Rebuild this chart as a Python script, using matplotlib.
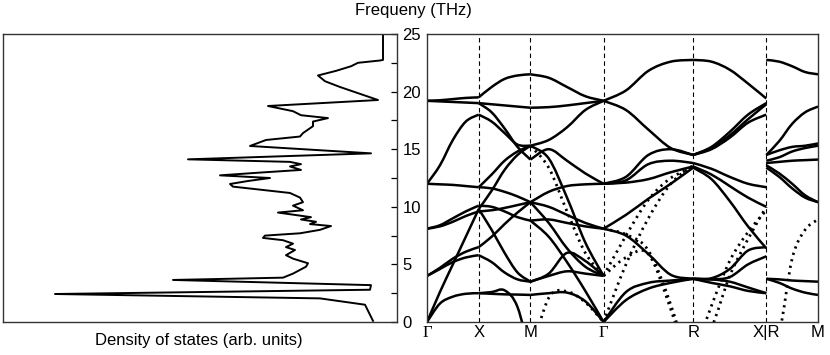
import numpy as np
import matplotlib
matplotlib.use("Agg")
import matplotlib.pyplot as plt
from matplotlib.ticker import MultipleLocator
from matplotlib.path import Path
from matplotlib.patches import PathPatch

plt.rcParams['font.family'] = ['Liberation Sans', 'DejaVu Sans']

# ---- density of states (left panel) ----
dos_freq = [0.1, 1.5, 2.05, 2.43, 2.8, 3.2, 3.65, 3.85, 4.2, 4.8, 5.1, 5.5, 5.8,
            6.25, 6.5, 6.8, 7.1, 7.3, 7.5, 7.7, 8.0, 8.33, 8.5, 8.7, 8.9, 9.1,
            9.5, 9.7, 10.1, 10.4, 10.8, 11.2, 11.75, 11.98, 12.24, 12.5, 12.73,
            12.97, 13.2, 13.5, 13.7, 13.9, 14.12, 14.64, 15.28, 15.8, 16.1, 16.4,
            17.0, 17.4, 17.7, 17.95, 18.3, 18.75, 19.27, 20.4, 20.9, 21.4, 21.8,
            22.2, 22.5, 22.7, 22.75, 25.0]
dos_val = [0.10, 0.18, 0.63, 3.28, 0.13, 0.12, 2.10, 1.00, 0.90, 0.77, 0.75, 0.90,
           0.97, 0.88, 0.97, 0.90, 1.00, 1.20, 1.18, 0.83, 0.63, 0.52, 0.73, 0.67,
           0.82, 0.72, 1.05, 0.80, 0.90, 0.80, 0.83, 0.93, 1.50, 1.53, 1.35, 1.13,
           1.63, 1.23, 0.82, 0.93, 0.82, 0.93, 1.95, 0.12, 1.33, 1.17, 0.83, 0.80,
           0.70, 0.70, 0.55, 0.82, 0.90, 1.15, 0.05, 0.43, 0.58, 0.65, 0.47, 0.32,
           0.25, 0.03, 0.0, 0.0]

# ---- phonon dispersion (right panel) ----
kpt_labels = ['Γ', 'X', 'M', 'Γ', 'R', 'X|R', 'M']
seg_length = [0.5, 0.5, 0.7071, 0.8660, 0.7071, 0.5]   # path lengths in 2pi/a
# frequencies (THz) of each band at 0, 1/4, 1/2, 3/4, 1 along a segment
bands_GX = [
    [0, 1.6, 2.2, 2.45, 2.5],
    [0, 2.6, 5.0, 7.4, 9.8],
    [4.0, 4.6, 5.2, 5.6, 5.8],
    [4.0, 4.7, 5.5, 6.1, 6.5],
    [8.1, 8.3, 8.7, 9.2, 9.6],
    [8.1, 8.4, 9.0, 9.6, 10.1],
    [12.0, 11.95, 11.9, 11.8, 11.7],
    [12.0, 13.6, 15.8, 17.4, 18.0],
    [19.2, 19.25, 19.35, 19.45, 19.5],
    [19.2, 19.15, 19.1, 19.05, 19.0],
]
bands_XM = [
    [2.5, 2.45, 2.4, 2.38, 2.35],
    [2.5, 2.6, 2.75, 1.3, -3],
    [5.8, 5.2, 4.3, 3.7, 3.5],
    [6.5, 7.4, 8.5, 9.5, 10.4],
    [9.8, 8.0, 6.0, 4.3, 3.5],
    [10.1, 10.0, 9.6, 9.1, 8.8],
    [9.6, 9.7, 9.9, 10.15, 10.4],
    [11.7, 11.6, 11.3, 10.9, 10.4],
    [11.7, 12.8, 14.0, 14.8, 15.3],
    [9.8, 11.4, 13.2, 14.5, 15.3],
    [18.0, 17.4, 16.4, 15.4, 15.3],
    [19.0, 18.2, 16.8, 15.2, 14.1],
    [19.0, 18.9, 18.8, 18.7, 18.6],
    [19.5, 20.4, 21.1, 21.4, 21.5],
]
bands_MG = [
    [21.5, 21.2, 20.4, 19.6, 19.2],
    [18.6, 18.65, 18.8, 19.0, 19.2],
    [15.3, 15.8, 16.9, 18.4, 19.2],
    [14.1, 15.0, 14.0, 12.9, 12.0],
    [15.3, 14.2, 10.8, 6.9, 4.0],
    [15.3, 13.4, 9.6, 6.0, 4.0],
    [10.4, 11.3, 11.8, 11.95, 12.0],
    [10.4, 10.0, 9.3, 8.6, 8.1],
    [8.8, 8.9, 8.6, 8.3, 8.1],
    [10.4, 8.6, 6.4, 4.8, 4.0],
    [3.5, 4.2, 6.0, 5.3, 4.0],
    [3.5, 4.0, 4.4, 4.2, 4.0],
    [2.35, 2.5, 2.55, 1.8, 0],
    [-3, 2.1, 2.65, 1.7, 0],
    [8.8, 7.4, 5.2, 2.7, 0],
]
bands_GR = [
    [19.2, 20.1, 21.8, 22.6, 22.75],
    [19.2, 18.4, 16.7, 15.1, 14.5],
    [12.0, 12.6, 14.5, 15.0, 14.5],
    [12.0, 12.3, 13.7, 14.0, 13.8],
    [12.0, 12.1, 12.4, 13.0, 13.5],
    [8.1, 9.3, 10.7, 12.0, 13.4],
    [4.0, 7.5, 10.6, 12.5, 13.4],
    [0, 5.0, 9.0, 12.0, 13.6],
    [8.1, 7.5, 5.9, 4.1, 3.75],
    [4.0, 5.6, 5.9, 1.1, -5],
    [8.1, 7.6, 6.2, 1.5, -5],
    [0, 1.9, 2.9, 3.4, 3.75],
    [0, 2.6, 3.4, 3.6, 3.75],
]
bands_RX = [
    [22.75, 22.6, 21.9, 20.7, 19.4],
    [14.5, 15.2, 16.5, 18.0, 19.0],
    [14.5, 15.1, 16.2, 17.6, 18.9],
    [14.5, 15.0, 16.0, 17.3, 18.0],
    [13.8, 13.3, 12.6, 12.0, 11.7],
    [13.5, 12.8, 11.8, 10.8, 10.0],
    [13.4, 12.4, 10.5, 8.3, 6.4],
    [-3, 1.4, 5.3, 7.8, 9.7],
    [-3, -0.5, 4.0, 7.2, 10.0],
    [3.75, 3.7, 3.9, 5.0, 5.7],
    [3.75, 3.8, 4.6, 6.2, 6.5],
    [3.75, 3.7, 3.5, 3.0, 2.5],
    [3.75, 3.4, 3.1, 2.7, 2.5],
]
bands_RM = [
    [22.75, 22.6, 22.2, 21.7, 21.5],
    [14.5, 15.7, 17.2, 18.2, 18.7],
    [14.5, 14.9, 15.2, 15.3, 15.5],
    [14.0, 14.3, 14.8, 15.1, 15.3],
    [13.8, 13.9, 14.0, 14.05, 14.1],
    [13.6, 12.9, 12.0, 11.0, 10.4],
    [13.4, 12.6, 11.6, 10.8, 10.4],
    [-3, -1.0, 5.5, 8.0, 8.9],
    [3.75, 3.7, 3.6, 3.55, 3.5],
    [3.75, 3.4, 2.9, 2.55, 2.35],
]
segments = [bands_GX, bands_XM, bands_MG, bands_GR, bands_RX, bands_RM]
# steep branches that show up as dotted in the original (segment, band)
dotted = [(2, 5), (2, 13), (3, 6), (3, 7), (3, 9), (3, 10), (4, 7), (4, 8), (5, 7)]

kpos = np.concatenate([[0], np.cumsum(seg_length)])


def smooth_path(x, y):
    # cubic Bezier path passing through the read points (Catmull-Rom tangents)
    p = np.column_stack([x, y]).astype(float)
    ext = np.vstack([p[0], p, p[-1]])
    verts = [p[0]]
    codes = [Path.MOVETO]
    for i in range(len(p) - 1):
        p0, p1, p2, p3 = ext[i], ext[i + 1], ext[i + 2], ext[i + 3]
        verts += [p1 + (p2 - p0) / 6, p2 - (p3 - p1) / 6, p2]
        codes += [Path.CURVE4] * 3
    return Path(verts, codes)


fig = plt.figure(figsize=(8.3, 3.55), dpi=100)
ax1 = fig.add_axes([3/830, 33/355, 394/830, 288/355])
ax2 = fig.add_axes([427/830, 33/355, 391/830, 288/355])

# left: DOS, peaks pointing to the left
ax1.plot(dos_val, dos_freq, color='black', lw=1.4)
ax1.set_xlim(3.8, -0.14)
ax1.set_ylim(0, 25)
ax1.set_xticks([])
ax1.yaxis.tick_right()
ax1.yaxis.set_major_locator(MultipleLocator(5))
ax1.yaxis.set_minor_locator(MultipleLocator(2.5))
ax1.tick_params(axis='y', which='both', direction='in', length=4, width=0.9,
                labelsize=12, pad=4)

# right: band structure
for i, seg in enumerate(segments):
    k = np.linspace(kpos[i], kpos[i + 1], len(seg[0]))
    for j, band in enumerate(seg):
        if (i, j) in dotted:
            ls, lw = (0, (0.8, 1.6)), 2.0
        else:
            ls, lw = '-', 1.8
        ax2.add_patch(PathPatch(smooth_path(k, band), fill=False,
                                edgecolor='black', lw=lw, ls=ls))
for kx in kpos[1:-1]:
    ax2.axvline(kx, color='black', lw=0.8, ls=(0, (4, 3)))
ax2.set_xlim(kpos[0], kpos[-1])
ax2.set_ylim(0, 25)
ax2.set_yticks([])
ax2.set_xticks(kpos)
ax2.set_xticklabels(kpt_labels, fontsize=12)
for lab in ax2.get_xticklabels():
    if lab.get_text() == 'Γ':
        lab.set_fontfamily(['Liberation Serif', 'DejaVu Serif'])
ax2.tick_params(axis='x', length=0, pad=2)

for ax in (ax1, ax2):
    for sp in ax.spines.values():
        sp.set_linewidth(1.0)
        sp.set_color('#333333')

fig.text(413/830, 1 - 11/355, 'Frequeny (THz)', ha='center', va='center', fontsize=12)
fig.text(199/830, 1 - 340/355, 'Density of states (arb. units)', ha='center',
         va='center', fontsize=12)

fig.savefig('out.png', dpi=100)
